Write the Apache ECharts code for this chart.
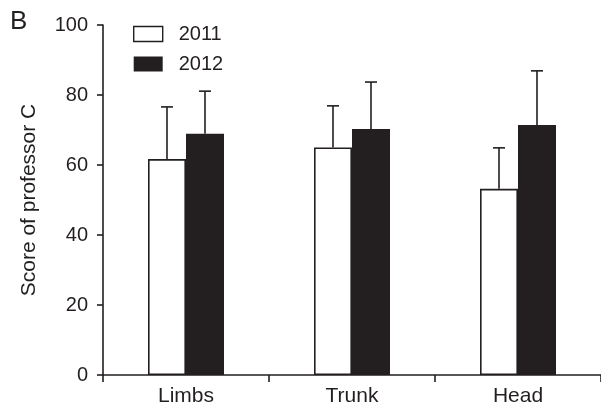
<!DOCTYPE html>
<html><head><meta charset="utf-8">
<script src="https://cdn.jsdelivr.net/npm/echarts@6/dist/echarts.min.js"></script>
<style>html,body{margin:0;padding:0;background:#fff}#c{width:601px;height:408px}</style>
</head><body><div id="c"></div>
<script>
var categories = ['Limbs', 'Trunk', 'Head'];
var mean2011 = [61.7, 65.0, 53.2];
var mean2012 = [68.9, 70.3, 71.4];
var sd2011 = [14.9, 11.9, 11.7];
var sd2012 = [12.2, 13.4, 15.5];
var yTicks = [0, 20, 40, 60, 80, 100];

var INK = '#231f20';
var FONT = '"Liberation Sans", Arial, sans-serif';
var BW = 38;

function errData(means, sds) {
  return means.map(function (m, i) { return [i, m, m + sds[i]]; });
}
function errSeries(name, means, sds, side) {
  return {
    type: 'custom', name: name + ' err', silent: true, z: 1,
    data: errData(means, sds),
    encode: { x: 0, y: [1, 2] },
    renderItem: function (params, api) {
      var base = api.coord([api.value(0), api.value(1)]);
      var top = api.coord([api.value(0), api.value(2)]);
      var x = base[0] + side * BW / 2;
      return {
        type: 'group', children: [
          { type: 'line', shape: { x1: x, y1: base[1], x2: x, y2: top[1] }, style: { stroke: INK, lineWidth: 1.6 } },
          { type: 'line', shape: { x1: x - 6, y1: top[1], x2: x + 6, y2: top[1] }, style: { stroke: INK, lineWidth: 1.6 } }
        ]
      };
    }
  };
}

var chart = echarts.init(document.getElementById('c'));
chart.setOption({
  animation: false,
  backgroundColor: '#fff',
  textStyle: { fontFamily: FONT, color: INK },
  grid: { left: 103, top: 25, width: 501, height: 350, containLabel: false },
  graphic: [{
    type: 'text', left: 10, top: 9,
    style: { text: 'B', fontSize: 26, fontFamily: FONT, fill: INK }
  }],
  legend: {
    left: 133, top: 24, padding: 0, orient: 'vertical', itemWidth: 29, itemHeight: 15, itemGap: 10,
    icon: 'rect',
    data: [
      { name: '2011', itemStyle: { color: '#fff', borderColor: INK, borderWidth: 1.4 } },
      { name: '2012', itemStyle: { color: INK } }
    ],
    textStyle: { fontFamily: FONT, fontSize: 20, color: INK, padding: [0, 0, 0, 11] }
  },
  xAxis: {
    type: 'category', data: categories,
    axisLine: { lineStyle: { color: INK, width: 1.6 } },
    axisTick: { show: true, length: 7, lineStyle: { color: INK, width: 1.6 } },
    axisLabel: { fontFamily: FONT, fontSize: 21, color: INK, margin: 11 }
  },
  yAxis: {
    type: 'value', min: yTicks[0], max: yTicks[yTicks.length - 1], interval: 20,
    name: 'Score of professor C', nameLocation: 'middle', nameGap: 63,
    nameTextStyle: { fontFamily: FONT, fontSize: 21, color: INK },
    axisLine: { show: true, lineStyle: { color: INK, width: 1.6 } },
    axisTick: { show: true, length: 6, lineStyle: { color: INK, width: 1.6 } },
    axisLabel: { fontFamily: FONT, fontSize: 20, color: INK, margin: 15 },
    splitLine: { show: false }
  },
  series: [
    { name: '2011', type: 'bar', data: mean2011, barWidth: BW, barGap: '0%', z: 2,
      itemStyle: { color: '#fff', borderColor: INK, borderWidth: 1.6 } },
    { name: '2012', type: 'bar', data: mean2012, barWidth: BW, barGap: '0%', z: 2,
      itemStyle: { color: INK, borderColor: INK, borderWidth: 0 } },
    errSeries('2011', mean2011, sd2011, -1),
    errSeries('2012', mean2012, sd2012, 1)
  ]
});
</script></body></html>
